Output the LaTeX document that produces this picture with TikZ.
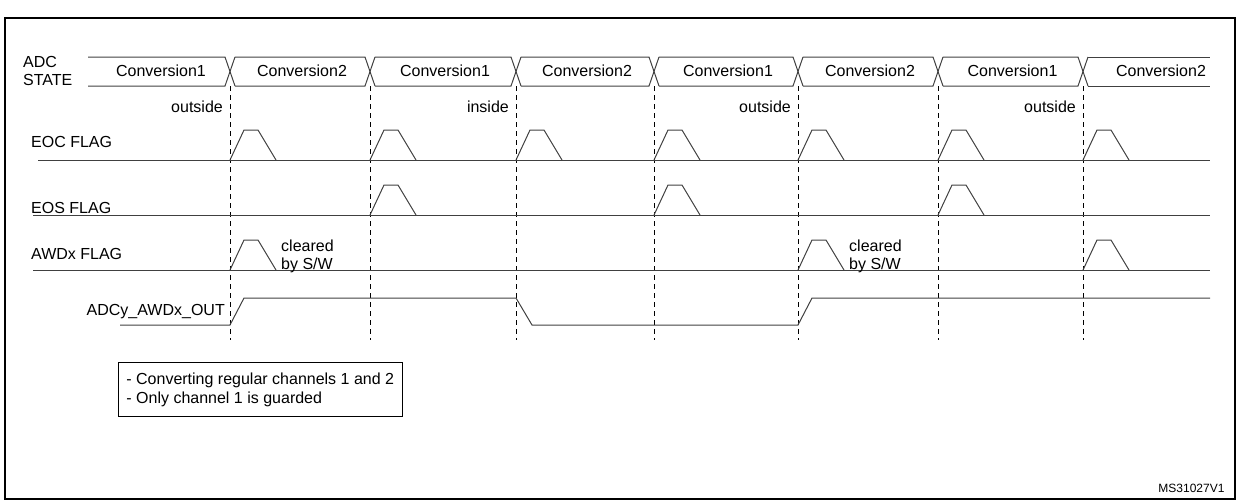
\documentclass[tikz,border=0pt]{standalone}
\usepackage{fontspec}
\setmainfont{Liberation Sans}
\usetikzlibrary{positioning}
\tikzset{
  sig/.style={line width=1pt, black!75},
  guide/.style={line width=0.8pt, dash pattern=on 5pt off 4pt},
  lbl/.style={font=\fontsize{16}{18}\selectfont, inner sep=1pt},
  note/.style={font=\fontsize{16}{19}\selectfont, align=left, inner sep=1pt}
}
\newcommand{\pulse}[2]{% x, base y
  \draw[sig] (#1,#2) -- ++(14,-30) -- ++(14,0) -- ++(18,30);}

\begin{document}
\begin{tikzpicture}[x=1pt, y=-1pt]
  \useasboundingbox (0,0) rectangle (1237,499);
  \draw[line width=1.2pt] (5,18) rectangle (1235,499);

  % ADC state bus
  \node[lbl, align=left, anchor=west] (state) at (22,71) {ADC\\STATE};
  \draw[sig] (88,57) -- (225,57) -- (235,86);
  \draw[sig] (88,86) -- (225,86) -- (235,57);
  \foreach \a/\b in {230/370, 370/516, 516/654, 654/798, 798/938, 938/1083}{
    \draw[sig] (\a+5,57) -- (\b-5,57) -- (\b+5,86);
    \draw[sig] (\a+5,86) -- (\b-5,86) -- (\b+5,57);
  }
  \draw[sig] (1088,57) -- (1210,57);
  \draw[sig] (1088,86) -- (1210,86);
  \foreach \a/\b/\t [count=\i] in {88/230/1, 230/370/2, 370/516/1, 516/654/2, 654/798/1, 798/938/2, 938/1083/1, 1083/1235/2}
    \node[lbl] (c\i) at ({(\a+\b)/2+2},71) {Conversion\t};

  % dashed markers
  \foreach \x in {230,370,516,654,798,938,1083}
    \draw[guide] (\x,86) -- (\x,340);

  \node[lbl, anchor=east] (o1) at (224,107) {outside};
  \node[lbl, anchor=east] (o2) at (510,107) {inside};
  \node[lbl, anchor=east] (o3) at (792,107) {outside};
  \node[lbl, anchor=east] (o4) at (1077,107) {outside};

  % EOC flag
  \node[lbl, anchor=west] (eoc) at (30,142) {EOC FLAG};
  \draw[sig] (38,160) -- (1210,160);
  \foreach \x in {230,370,516,654,798,938,1083} {\pulse{\x}{160}}

  % EOS flag
  \node[lbl, anchor=west] (eos) at (30,208) {EOS FLAG};
  \draw[sig] (33,215) -- (1210,215);
  \foreach \x in {370,654,938} {\pulse{\x}{215}}

  % AWDx flag
  \node[lbl, anchor=west] (awd) at (30,254) {AWDx FLAG};
  \draw[sig] (33,270) -- (1210,270);
  \foreach \x in {230,798,1083} {\pulse{\x}{270}}
  \node[lbl, align=left, anchor=west] (clr1) at (280,256) {cleared\\by S/W};
  \node[lbl, align=left, anchor=west] (clr2) at (848,256) {cleared\\by S/W};

  % ADCy_AWDx_OUT
  \node[lbl, anchor=east] (out) at (226,312) {ADCy\_AWDx\_OUT};
  \draw[sig] (120,325) -- (230,325) -- (244,298) -- (516,298) -- (532,325)
    -- (798,325) -- (812,298) -- (1210,298);

  % legend
  \node[draw, line width=0.8pt, note, inner xsep=8pt, inner ysep=10pt, anchor=north west] (legend) at (118,362)
    {- Converting regular channels 1 and 2\\- Only channel 1 is guarded};
  \node[font=\fontsize{12}{14}\selectfont, anchor=south east] (ref) at (1228,496) {MS31027V1};
\end{tikzpicture}
\end{document}
